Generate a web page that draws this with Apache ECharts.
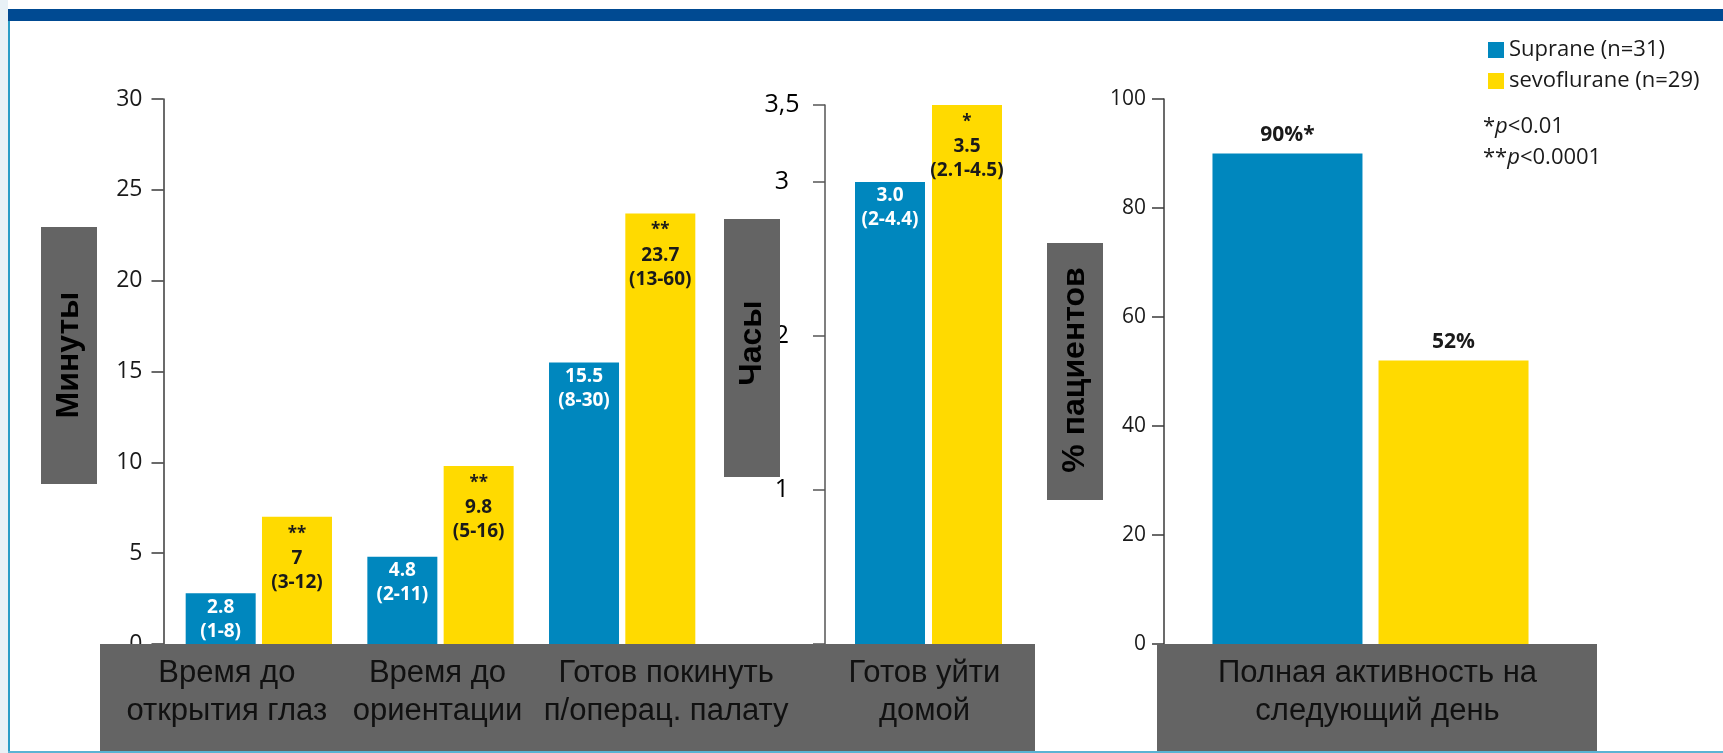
<!DOCTYPE html>
<html>
<head>
<meta charset="utf-8">
<script src="https://cdn.jsdelivr.net/npm/echarts@6/dist/echarts.min.js"></script>
<style>
html, body { margin: 0; padding: 0; background: #fff; }
#chart { width: 1723px; height: 753px; }
</style>
</head>
<body>
<div id="chart"></div>
<script>
// категории
const minuteCats = ['Время до\nоткрытия глаз', 'Время до\nориентации', 'Готов покинуть\nп/операц. палату'];
const homeCats = ['Готов уйти\nдомой'];
const activityCats = ['Полная активность на\nследующий день'];

const seriesNames = ['Suprane (n=31)', 'sevoflurane (n=29)'];

// минуты: медиана (диапазон)
const supraneMin = [2.8, 4.8, 15.5];
const supraneMinRange = ['1-8', '2-11', '8-30'];
const sevoMin = [7, 9.8, 23.7];
const sevoMinRange = ['3-12', '5-16', '13-60'];
const sevoMinSig = ['**', '**', '**'];

// часы
const supraneHome = [3.0];
const supraneHomeRange = ['2-4.4'];
const sevoHome = [3.5];
const sevoHomeRange = ['2.1-4.5'];
const sevoHomeSig = ['*'];

// % пациентов
const supraneAct = [90];
const supraneActSig = ['*'];
const sevoAct = [52];
const sevoActSig = [''];

// деления оси часов
const hourTicks = [0, 1, 2, 3, 3.5];
const hourLabels = [1, 2, 3, 3.5];

// сноски
const pNotes = ['*', '**'];
const pValues = ['<0.01', '<0.0001'];

// сдвиг подписей категорий (px)
const minuteShift = [-32, -3, 44];
const homeShift = [-4];
const activityShift = [7];

const blue = '#0087be';
const yellow = '#ffda00';
const gray = '#646464';
const axisColor = '#3a3a3a';
const numFont = '"Open Sans", "Noto Sans", sans-serif';
const catFont = '"Liberation Sans", Arial, sans-serif';

const catData = (cats, shifts) => cats.map((c, i) => ({
  value: c,
  textStyle: {
    padding: shifts[i] > 0 ? [0, 0, 0, 2 * shifts[i]] : [0, -2 * shifts[i], 0, 0]
  }
}));

const blueRich = {
  v: { color: '#fff', fontFamily: numFont, fontWeight: 'bold', fontSize: 19, lineHeight: 24 },
  r: { color: '#fff', fontFamily: numFont, fontWeight: 'bold', fontSize: 19, lineHeight: 24 }
};
const yellowRich = {
  s: { color: '#1a1a1a', fontFamily: numFont, fontWeight: 'bold', fontSize: 17, lineHeight: 26 },
  v: { color: '#1a1a1a', fontFamily: numFont, fontWeight: 'bold', fontSize: 19, lineHeight: 24 },
  r: { color: '#1a1a1a', fontFamily: numFont, fontWeight: 'bold', fontSize: 19, lineHeight: 24 }
};

const xCat = (idx, data) => ({
  type: 'category',
  gridIndex: idx,
  data: data,
  z: 6,
  axisLine: { show: false },
  axisTick: { show: false },
  axisLabel: {
    interval: 0,
    margin: 10,
    color: '#111',
    fontFamily: catFont,
    fontSize: 31,
    lineHeight: 38
  }
});

const yLine = { show: true, lineStyle: { color: axisColor, width: 1.5 } };
const yTick = { show: true, length: 12, lineStyle: { color: axisColor, width: 1.5 } };

const myChart = echarts.init(document.getElementById('chart'));

const titleBox = (x, y, w, h, text, ty) => [
  { type: 'rect', z: 3, silent: true, shape: { x: x, y: y, width: w, height: h }, style: { fill: gray } },
  {
    type: 'text', z: 4, silent: true, x: x + w / 2, y: ty, rotation: Math.PI / 2,
    style: { text: text, fill: '#000', font: 'bold 32px ' + catFont, align: 'center', verticalAlign: 'middle' }
  }
];

let option = {
  backgroundColor: '#fff',
  animation: false,
  legend: {
    data: seriesNames,
    orient: 'vertical',
    left: 1483,
    top: 34,
    icon: 'rect',
    itemWidth: 16,
    itemHeight: 16,
    itemGap: 9,
    selectedMode: false,
    textStyle: { fontFamily: numFont, fontSize: 22, color: '#1a1a1a', lineHeight: 22 }
  },
  grid: [
    { left: 168, top: 99, width: 545, height: 545, outerBoundsMode: 'none' },
    { left: 825, top: 105, width: 207, height: 539, outerBoundsMode: 'none' },
    { left: 1164, top: 99, width: 413, height: 545, outerBoundsMode: 'none' }
  ],
  xAxis: [
    xCat(0, catData(minuteCats, minuteShift)),
    xCat(1, catData(homeCats, homeShift)),
    xCat(2, catData(activityCats, activityShift))
  ],
  yAxis: [
    {
      type: 'value', gridIndex: 0, min: 0, max: 30, interval: 5, offset: 4.5, z: 0,
      splitLine: { show: false }, axisLine: yLine, axisTick: yTick,
      axisLabel: { margin: 21, color: '#1a1a1a', fontFamily: numFont, fontSize: 23 }
    },
    {
      type: 'value', gridIndex: 1, min: 0, max: 3.5, z: 0,
      splitLine: { show: false },
      axisLine: { show: true, lineStyle: { color: '#555', width: 1.5 } },
      axisTick: { show: true, length: 12, customValues: hourTicks, lineStyle: { color: '#555', width: 1.5 } },
      axisLabel: {
        customValues: hourLabels,
        align: 'center',
        margin: 43,
        color: '#000',
        fontFamily: numFont,
        fontSize: 25,
        formatter: v => String(v).replace('.', ',')
      }
    },
    {
      type: 'value', gridIndex: 2, min: 0, max: 100, interval: 20, z: 0,
      splitLine: { show: false }, axisLine: yLine, axisTick: yTick,
      axisLabel: { margin: 18, color: '#1a1a1a', fontFamily: numFont, fontSize: 21 }
    }
  ],
  series: [
    {
      name: seriesNames[0], type: 'bar', xAxisIndex: 0, yAxisIndex: 0,
      data: supraneMin, barWidth: 70, barGap: '9%', itemStyle: { color: blue },
      label: {
        show: true, position: 'insideTop', distance: 2, rich: blueRich,
        formatter: p => `{v|${p.value}}\n{r|(${supraneMinRange[p.dataIndex]})}`
      }
    },
    {
      name: seriesNames[1], type: 'bar', xAxisIndex: 0, yAxisIndex: 0,
      data: sevoMin, barWidth: 70, barGap: '9%', itemStyle: { color: yellow },
      label: {
        show: true, position: 'insideTop', distance: 4, rich: yellowRich,
        formatter: p => `{s|${sevoMinSig[p.dataIndex]}}\n{v|${p.value}}\n{r|(${sevoMinRange[p.dataIndex]})}`
      }
    },
    {
      name: seriesNames[0], type: 'bar', xAxisIndex: 1, yAxisIndex: 1,
      data: supraneHome, barWidth: 70, barGap: '10%', itemStyle: { color: blue },
      label: {
        show: true, position: 'insideTop', distance: 2, rich: blueRich,
        formatter: p => `{v|${p.value.toFixed(1)}}\n{r|(${supraneHomeRange[p.dataIndex]})}`
      }
    },
    {
      name: seriesNames[1], type: 'bar', xAxisIndex: 1, yAxisIndex: 1,
      data: sevoHome, barWidth: 70, barGap: '10%', itemStyle: { color: yellow },
      label: {
        show: true, position: 'insideTop', distance: 4, rich: yellowRich,
        formatter: p => `{s|${sevoHomeSig[p.dataIndex]}}\n{v|${p.value.toFixed(1)}}\n{r|(${sevoHomeRange[p.dataIndex]})}`
      }
    },
    {
      name: seriesNames[0], type: 'bar', xAxisIndex: 2, yAxisIndex: 2,
      data: supraneAct, barWidth: 150, barGap: '10.7%', itemStyle: { color: blue },
      label: {
        show: true, position: 'top', distance: 8, color: '#1a1a1a',
        fontFamily: numFont, fontWeight: 'bold', fontSize: 21,
        formatter: p => p.value + '%' + supraneActSig[p.dataIndex]
      }
    },
    {
      name: seriesNames[1], type: 'bar', xAxisIndex: 2, yAxisIndex: 2,
      data: sevoAct, barWidth: 150, barGap: '10.7%', itemStyle: { color: yellow },
      label: {
        show: true, position: 'top', distance: 8, color: '#1a1a1a',
        fontFamily: numFont, fontWeight: 'bold', fontSize: 21,
        formatter: p => p.value + '%' + sevoActSig[p.dataIndex]
      }
    }
  ],
  graphic: {
    elements: [
      // рамка слайда
      { type: 'rect', z: 1, silent: true, shape: { x: 0, y: 0, width: 8, height: 753 }, style: { fill: '#e8f1f6' } },
      { type: 'rect', z: 1, silent: true, shape: { x: 8, y: 9, width: 2, height: 744 }, style: { fill: '#2a9cc6' } },
      { type: 'rect', z: 1, silent: true, shape: { x: 8, y: 9, width: 1715, height: 12 }, style: { fill: '#004a92' } },
      { type: 'rect', z: 1, silent: true, shape: { x: 8, y: 751, width: 1715, height: 2 }, style: { fill: '#5ab3d3' } },
      // серые плашки под подписями категорий
      { type: 'rect', z: 3, silent: true, shape: { x: 100, y: 644, width: 935, height: 107 }, style: { fill: gray } },
      { type: 'rect', z: 3, silent: true, shape: { x: 1157, y: 644, width: 440, height: 107 }, style: { fill: gray } },
      ...titleBox(41, 227, 56, 257, 'Минуты', 355),
      ...titleBox(724, 219, 56, 258, 'Часы', 343),
      ...titleBox(1047, 243, 56, 257, '% пациентов', 370),
      ...pNotes.map((n, i) => ({
        type: 'text', z: 4, silent: true, x: 1483, y: 127 + i * 31,
        style: {
          text: `{n|${n}}{i|p}{n|${pValues[i]}}`,
          verticalAlign: 'middle',
          rich: {
            n: { fontFamily: numFont, fontSize: 22, fill: '#1a1a1a' },
            i: { fontFamily: numFont, fontSize: 22, fontStyle: 'italic', fill: '#1a1a1a' }
          }
        }
      }))
    ]
  }
};

myChart.setOption(option);
</script>
</body>
</html>
